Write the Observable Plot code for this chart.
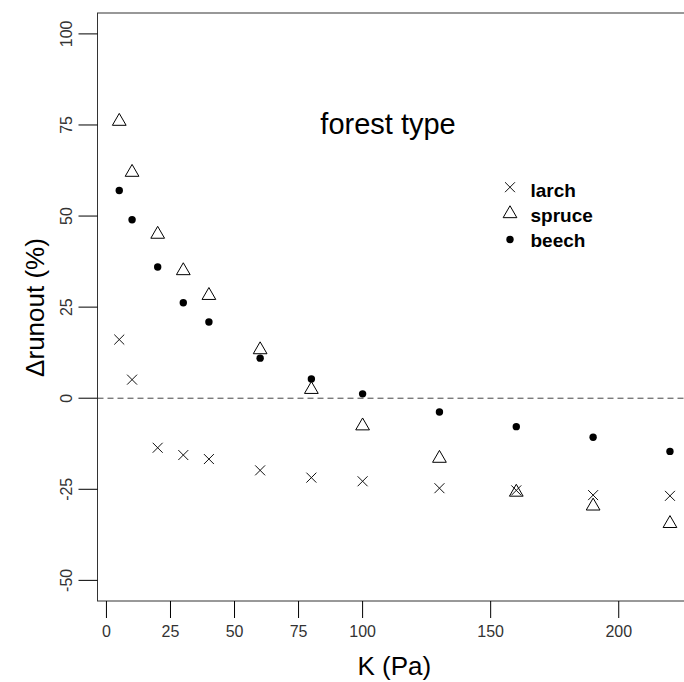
<!DOCTYPE html>
<html><head><meta charset="utf-8">
<script src="https://cdn.jsdelivr.net/npm/d3@7"></script>
<script src="https://cdn.jsdelivr.net/npm/@observablehq/plot@0.6"></script>
<style>
  html,body{margin:0;padding:0;background:#fff;}
  #chart svg{display:block;}
</style>
</head><body><div id="chart"></div>
<script>
// ---- data ----
const K = [5, 10, 20, 30, 40, 60, 80, 100, 130, 160, 190, 220];
const larch  = [16.1, 5.1, -13.6, -15.6, -16.7, -19.8, -21.8, -22.8, -24.7, -25.3, -26.6, -26.8];
const spruce = [76, 62, 45, 35, 28.2, 13.3, 2.4, -7.6, -16.5, -25.8, -29.6, -34.4];
const beech  = [57, 49, 36, 26.2, 20.9, 11, 5.3, 1.2, -3.8, -7.8, -10.7, -14.6];
const seriesNames = ["larch", "spruce", "beech"];
const xTicks = [0, 25, 50, 75, 100, 150, 200];
const yTicks = [-50, -25, 0, 25, 50, 75, 100];
const xLabel = "K (Pa)";
const yLabel = "\u0394runout (%)";
const legendTitle = "forest type";

// ---- layout ----
const xDomain = [-3.3, 228.6];
const yDomain = [-55.8, 105.6];
const font = "'Liberation Sans', Arial, Helvetica, sans-serif";

const seriesData = [larch, spruce, beech];
const symbolStyles = [
  {symbol: "times", r: 4.6, stroke: "#111", strokeWidth: 1, fill: "none"},
  {symbol: "triangle", r: 5.1, stroke: "#000", strokeWidth: 1, fill: "none"},
  {symbol: "circle", r: 3.7, fill: "#000", stroke: "none"}
];
const legendDy = [173.7, 200.2, 226];
const legendTextDy = [183, 208.7, 233.7];

const marks = [
  Plot.rect([0], {x1: xDomain[0], x2: xDomain[1], y1: yDomain[0], y2: yDomain[1], fill: "none", stroke: "#333", strokeWidth: 1}),
  Plot.ruleY([0], {stroke: "#444", strokeDasharray: "6,4"}),
  Plot.axisX(xTicks, {tickSize: 17, fill: "none", stroke: "#000", label: null}),
  Plot.axisY(yTicks, {tickSize: 19, fill: "none", stroke: "#000", label: null}),
  Plot.text(xTicks, {x: d => d, frameAnchor: "bottom", dy: 30.5, fontSize: 16, fill: "#333", lineAnchor: "middle", textAnchor: "middle"}),
  Plot.text(yTicks, {y: d => d, frameAnchor: "left", dx: -30.8, rotate: -90, fontSize: 16, fill: "#333", lineAnchor: "middle", textAnchor: "middle"}),
  Plot.text([xLabel], {frameAnchor: "bottom", dx: 3, dy: 65, fontSize: 26, fill: "#000", lineAnchor: "middle"}),
  Plot.text([yLabel], {frameAnchor: "left", dx: -62, rotate: -90, fontSize: 26, fill: "#000", lineAnchor: "middle", textAnchor: "middle"}),
  Plot.text([legendTitle], {frameAnchor: "top", dx: -3.2, dy: 120.3, fontSize: 29, fill: "#000", lineAnchor: "bottom", textAnchor: "middle"})
];

seriesData.forEach((vals, s) => {
  marks.push(Plot.dot(K, {x: d => d, y: (d, i) => vals[i], ...symbolStyles[s]}));
});

seriesNames.forEach((name, s) => {
  marks.push(Plot.dot([name], {frameAnchor: "top-left", dx: 412, dy: legendDy[s], ...symbolStyles[s]}));
  marks.push(Plot.text([name], {frameAnchor: "top-left", dx: 432.5, dy: legendTextDy[s], fontSize: 19, fontWeight: "bold", fill: "#000", textAnchor: "start", lineAnchor: "bottom"}));
});

const chart = Plot.plot({
  width: 684,
  height: 682,
  marginLeft: 97.5,
  marginRight: 0,
  marginTop: 13,
  marginBottom: 81,
  style: {fontFamily: font, background: "#fff", color: "#000"},
  x: {domain: xDomain, range: [97.5, 691.5]},
  y: {domain: yDomain, range: [601, 13]},
  marks
});
document.getElementById("chart").appendChild(chart);
</script>
</body></html>
